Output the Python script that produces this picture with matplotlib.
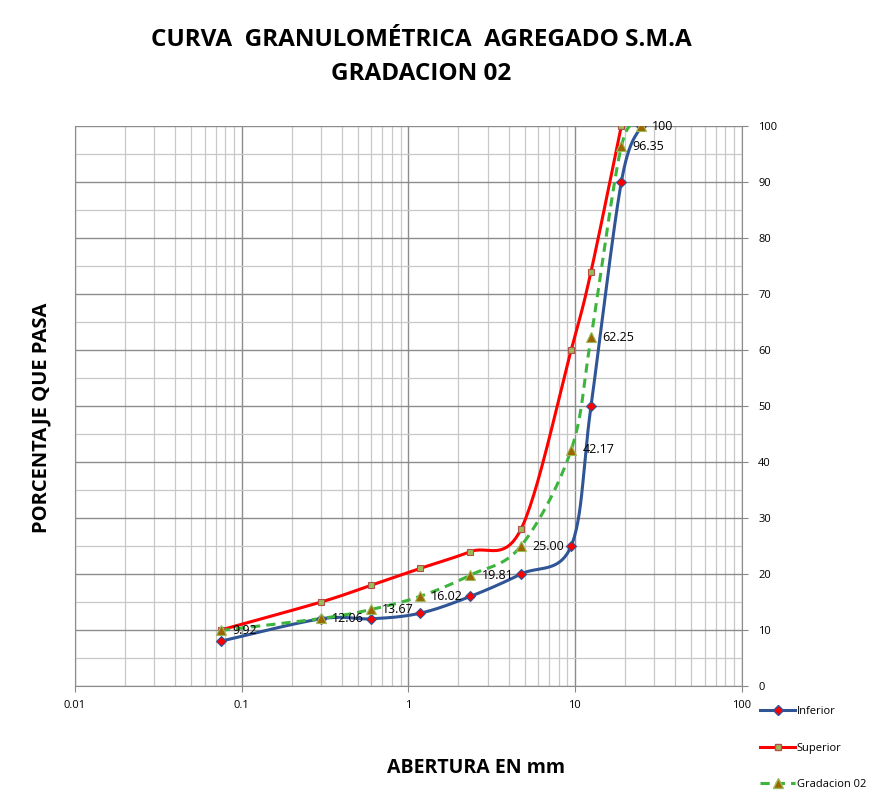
import matplotlib.pyplot as plt
import numpy as np
from matplotlib.ticker import FixedLocator, NullFormatter

# Sieve openings (mm) and percent passing
aberturas = [0.075, 0.3, 0.6, 1.18, 2.36, 4.75, 9.5, 12.5, 19, 25]
inferior = [8, 12, 12, 13, 16, 20, 25, 50, 90, 100]
aberturas_sup = [0.075, 0.3, 0.6, 1.18, 2.36, 4.75, 9.5, 12.5, 19]
superior = [10, 15, 18, 21, 24, 28, 60, 74, 100]
gradacion = [9.92, 12.06, 13.67, 16.02, 19.81, 25.00, 42.17, 62.25, 96.35, 100]
etiquetas = ["9.92", "12.06", "13.67", "16.02", "19.81", "25.00", "42.17", "62.25", "96.35", "100"]


# Excel-like smoothed line: Catmull-Rom in (log x, y) space
def smooth(xs, ys, n=30):
    lx = np.log10(xs)
    ys = np.asarray(ys, float)
    P = np.column_stack([lx, ys])
    P = np.vstack([P[0], P, P[-1]])
    out = []
    for i in range(1, len(P) - 2):
        p0, p1, p2, p3 = P[i - 1], P[i], P[i + 1], P[i + 2]
        t = np.linspace(0, 1, n)[:, None]
        c1 = p1 + (p2 - p0) / 6
        c2 = p2 - (p3 - p1) / 6
        b = ((1 - t) ** 3) * p1 + 3 * ((1 - t) ** 2) * t * c1 + 3 * (1 - t) * t ** 2 * c2 + t ** 3 * p2
        out.append(b)
    out = np.vstack(out)
    return 10 ** out[:, 0], out[:, 1]


fig = plt.figure(figsize=(8.77, 8.0), dpi=100)
ax = fig.add_axes([0.0855, 0.1425, 0.76, 0.70])
font = "Open Sans"

ax.set_xscale("log")
ax.set_xlim(0.01, 100)
ax.set_ylim(0, 100)

# grid
ax.xaxis.set_major_locator(FixedLocator([0.01, 0.1, 1, 10, 100]))
minors = [m * 10.0 ** e for e in range(-2, 2) for m in range(2, 10)]
ax.xaxis.set_minor_locator(FixedLocator(minors))
ax.xaxis.set_minor_formatter(NullFormatter())
ax.yaxis.set_major_locator(FixedLocator(range(0, 101, 10)))
ax.yaxis.set_minor_locator(FixedLocator(range(5, 100, 10)))
ax.grid(which="major", color="#8c8c8c", linewidth=1.0)
ax.grid(which="minor", color="#c8c8c8", linewidth=0.9)
ax.set_axisbelow(True)

ax.set_xticks([0.01, 0.1, 1, 10, 100])
ax.set_xticklabels(["0.01", "0.1", "1", "10", "100"])
ax.yaxis.tick_right()
ax.tick_params(axis="both", which="major", labelsize=8, length=4, color="#888888")
ax.tick_params(axis="both", which="minor", length=0)
ax.tick_params(axis="x", pad=6)
ax.tick_params(axis="y", pad=8)
for lab in ax.get_xticklabels() + ax.get_yticklabels():
    lab.set_fontfamily(font)
for s in ax.spines.values():
    s.set_color("#8c8c8c")
ax.spines["top"].set_visible(False)

# curves
x, y = smooth(aberturas, inferior)
ax.plot(x, y, color="#2F5597", linewidth=2.2, zorder=3)
ax.plot(aberturas, inferior, linestyle="none", marker="D", markersize=5,
        markerfacecolor="#FF0000", markeredgecolor="#2F5597", markeredgewidth=0.8, zorder=4)
ax.plot([], [], color="#2F5597", linewidth=2.2, marker="D", markersize=5,
        markerfacecolor="#FF0000", markeredgecolor="#2F5597", label="Inferior")

x, y = smooth(aberturas_sup, superior)
ax.plot(x, y, color="#FF0000", linewidth=2.2, zorder=3)
ax.plot(aberturas_sup, superior, linestyle="none", marker="s", markersize=4,
        markerfacecolor="#9BBB59", markeredgecolor="#B0504A", markeredgewidth=0.8, zorder=4)
ax.plot([], [], color="#FF0000", linewidth=2.2, marker="s", markersize=4,
        markerfacecolor="#9BBB59", markeredgecolor="#B0504A", label="Superior")

x, y = smooth(aberturas, gradacion)
ax.plot(x, y, color="#3DB53D", linewidth=2.2, linestyle=(0, (3, 2)), zorder=3)
ax.plot(aberturas, gradacion, linestyle="none", marker="^", markersize=7,
        markerfacecolor="#9C6500", markeredgecolor="#9BBB59", markeredgewidth=0.8, zorder=4)
ax.plot([], [], color="#3DB53D", linewidth=2.2, linestyle=(0, (3, 2)), marker="^", markersize=7,
        markerfacecolor="#9C6500", markeredgecolor="#9BBB59", label="Gradacion 02")

for xa, ya, t in zip(aberturas, gradacion, etiquetas):
    ax.annotate(t, (xa, ya), xytext=(8, 0), textcoords="offset points",
                va="center", ha="left", fontsize=9, fontfamily=font, zorder=5)

leg = fig.legend(loc="upper left", bbox_to_anchor=(0.855, 0.13), frameon=False,
                 prop={"family": font, "size": 8}, labelspacing=2.3, handlelength=3.2,
                 handletextpad=0.1)

fig.text(0.48, 0.95, "CURVA  GRANULOMÉTRICA  AGREGADO S.M.A", ha="center", va="center",
         fontsize=17.5, fontweight="bold", fontfamily=font)
fig.text(0.48, 0.908, "GRADACION 02", ha="center", va="center",
         fontsize=17.5, fontweight="bold", fontfamily=font)
fig.text(0.047, 0.478, "PORCENTAJE QUE PASA", rotation=90, ha="center", va="center",
         fontsize=14.5, fontweight="bold", fontfamily=font)
fig.text(0.543, 0.04, "ABERTURA EN mm", ha="center", va="center",
         fontsize=14, fontweight="bold", fontfamily=font)

fig.savefig("out.png", dpi=100)
